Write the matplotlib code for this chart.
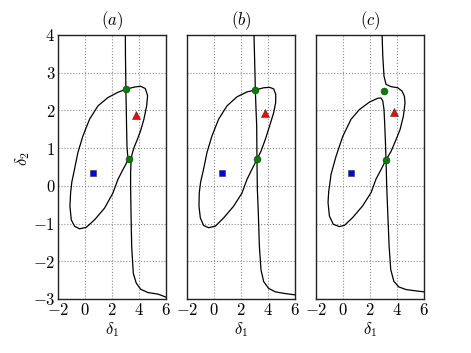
import matplotlib
matplotlib.use("Agg")
import matplotlib.pyplot as plt
import numpy as np

plt.rcParams['mathtext.fontset'] = 'cm'
plt.rcParams['font.family'] = 'serif'

# ---------------- data ----------------
titles = ['$(a)$', '$(b)$', '$(c)$']
xticks = [-2, 0, 2, 4, 6]
yticks = [-3, -2, -1, 0, 1, 2, 3, 4]

# panel (a)
a_curve1_x = [3.00, 3.01, 3.03, 3.04, 3.07, 3.09, 3.12, 3.17, 3.22, 3.05, 2.82, 2.45, 2.08, 1.46, 0.72, 0.10, -0.40, -0.77, -1.01, -1.11, -1.06, -0.97, -0.77, -0.52, -0.15, 0.35, 0.97, 1.71, 2.45, 3.04]
a_curve1_y = [4.00, 3.40, 2.90, 2.56, 2.03, 1.59, 1.06, 0.82, 0.72, 0.58, 0.43, 0.17, -0.19, -0.59, -0.90, -1.10, -1.14, -1.07, -0.90, -0.54, -0.19, 0.10, 0.44, 0.88, 1.32, 1.77, 2.12, 2.34, 2.48, 2.56]
a_curve2_x = [3.04, 3.69, 4.13, 4.48, 4.65, 4.58, 4.38, 4.13, 3.89, 3.64, 3.49, 3.42, 3.39, 3.39, 3.42, 3.47, 3.59, 3.81, 4.13, 4.68, 5.42, 5.79, 6.00]
a_curve2_y = [2.56, 2.62, 2.64, 2.58, 2.39, 2.12, 1.77, 1.46, 1.23, 1.01, 0.83, 0.61, 0.35, 0.00, -0.72, -1.61, -2.32, -2.58, -2.74, -2.83, -2.87, -2.92, -2.95]

# panel (b)
b_curve1_x = [3.07, 3.69, 4.13, 4.43, 4.58, 4.58, 4.43, 4.13, 3.81, 3.49, 3.19, 2.82, 2.45, 2.08, 1.46, 0.72, 0.10, -0.40, -0.77, -1.01, -1.11, -1.09, -0.99, -0.77, -0.52, -0.15, 0.35, 0.97, 1.71, 2.45, 3.07]
b_curve1_y = [2.54, 2.60, 2.61, 2.57, 2.43, 2.21, 1.94, 1.59, 1.23, 0.92, 0.70, 0.44, 0.17, -0.19, -0.54, -0.85, -1.07, -1.11, -1.05, -0.85, -0.54, -0.19, 0.10, 0.44, 0.88, 1.32, 1.77, 2.12, 2.36, 2.49, 2.54]
b_curve2_x = [2.97, 3.02, 3.07, 3.12, 3.17, 3.19, 3.22, 3.29, 3.37, 3.49, 3.69, 4.06, 4.55, 5.17, 6.00]
b_curve2_y = [4.00, 3.30, 2.54, 2.03, 1.59, 0.70, -0.10, -0.72, -1.61, -2.23, -2.54, -2.72, -2.81, -2.85, -2.89]

# panel (c)
c_curve1_x = [2.90, 2.95, 3.04, 3.19, 3.56, 4.06, 4.38, 4.55, 4.60, 4.48, 4.23, 3.94, 3.56, 3.19, 3.22, 3.24, 3.32, 3.42, 3.54, 3.77, 4.14, 4.68, 5.30, 6.00]
c_curve1_y = [4.00, 3.44, 2.91, 2.69, 2.63, 2.60, 2.51, 2.38, 2.20, 1.85, 1.49, 1.23, 0.91, 0.69, 0.30, 0.00, -0.72, -1.60, -2.22, -2.53, -2.68, -2.75, -2.78, -2.81]
c_curve2_x = [3.19, 3.14, 3.09, 3.04, 2.95, 2.82, 2.57, 1.96, 1.21, 0.59, -0.02, -0.52, -0.89, -0.98, -1.06, -1.11, -1.01, -0.72, -0.27, 0.10, 0.72, 1.46, 2.08, 2.45, 2.82, 3.19]
c_curve2_y = [0.69, 1.23, 1.67, 2.02, 2.25, 2.33, 2.32, 2.22, 2.02, 1.76, 1.31, 0.78, 0.30, 0.05, -0.15, -0.44, -0.80, -1.02, -1.08, -1.05, -0.84, -0.53, -0.18, 0.18, 0.43, 0.69]

square_x = [0.57, 0.57, 0.57]
square_y = [0.34, 0.35, 0.34]
triangle_x = [3.81, 3.81, 3.81]
triangle_y = [1.87, 1.94, 1.95]
circles_x = [[3.04, 3.24], [3.07, 3.19], [3.04, 3.19]]
circles_y = [[2.56, 0.72], [2.54, 0.70], [2.52, 0.69]]

curves = [
    [(a_curve1_x, a_curve1_y), (a_curve2_x, a_curve2_y)],
    [(b_curve1_x, b_curve1_y), (b_curve2_x, b_curve2_y)],
    [(c_curve1_x, c_curve1_y), (c_curve2_x, c_curve2_y)],
]

# ---------------- figure ----------------
fig = plt.figure(figsize=(4.71, 3.53), dpi=100)
lefts = [0.123, 0.397, 0.671]
width = 0.229
bottom = 0.153
height = 0.748

for i in range(3):
    ax = fig.add_axes([lefts[i], bottom, width, height])
    for cx, cy in curves[i]:
        ax.plot(cx, cy, color='black', lw=0.9, solid_joinstyle='round', zorder=3)
    ax.plot(square_x[i], square_y[i], 's', color='blue', mec='#333333', mew=0.4, ms=5, zorder=5)
    ax.plot(triangle_x[i], triangle_y[i], '^', color='red', mec='#333333', mew=0.4, ms=6, zorder=5)
    ax.plot(circles_x[i], circles_y[i], 'o', ls='none', color='green', mec='#333333', mew=0.4, ms=5, zorder=5)
    ax.set_xlim(-2, 6)
    ax.set_ylim(-3, 4)
    ax.set_xticks(xticks)
    ax.set_xticklabels(['$%d$' % t for t in xticks], fontsize=12)
    ax.set_yticks(yticks)
    if i == 0:
        ax.set_yticklabels(['$%d$' % t for t in yticks], fontsize=12)
        ax.set_ylabel(r'$\delta_2$', fontsize=12)
        ax.yaxis.set_label_coords(-0.24, 0.53)
    else:
        ax.set_yticklabels([])
    ax.set_xlabel(r'$\delta_1$', fontsize=12, labelpad=1)
    ax.set_title(titles[i], fontsize=12, pad=7)
    ax.tick_params(length=0, pad=2)
    ax.grid(True, color='0.55', linestyle=':', linewidth=0.8)
    ax.set_axisbelow(True)
    for s in ax.spines.values():
        s.set_linewidth(1.0)
        s.set_color('#222222')

fig.savefig('out.png', dpi=100)
